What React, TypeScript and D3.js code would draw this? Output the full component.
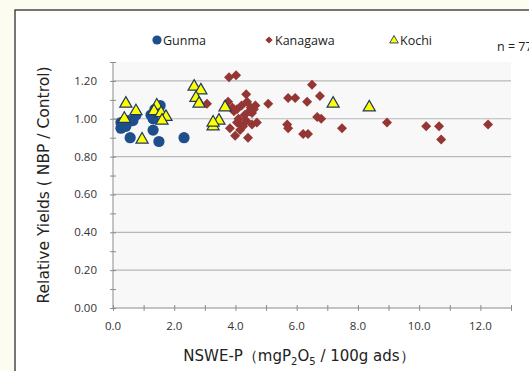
import React, { useEffect, useRef } from "react";
import * as d3 from "d3";

// Gunma (blue circles)
const gunmaX = [0.26, 0.26, 0.42, 0.5, 0.56, 0.65, 0.75, 1.24, 1.31, 1.37, 1.54, 1.31, 1.5, 2.32];
const gunmaY = [0.98, 0.95, 0.96, 0.99, 0.9, 0.99, 1.02, 1.02, 1.0, 1.05, 1.07, 0.94, 0.88, 0.9];

// Kanagawa (red diamonds)
const kanagawaX = [
  3.79, 4.02, 3.07, 3.76, 4.35, 4.38, 4.05, 4.2, 4.5, 4.65, 5.07, 5.72, 5.95, 6.34, 6.5,
  6.76, 4.54, 3.82, 3.99, 4.15, 4.15, 4.41, 4.54, 4.7, 5.69, 5.72, 6.21, 6.37, 6.67, 6.8,
  7.48, 8.95, 10.23, 10.65, 10.72, 12.25, 4.3, 4.1, 3.95, 4.45, 4.25, 4.6, 4.05, 4.35, 3.9,
];
const kanagawaY = [
  1.22, 1.23, 1.08, 1.09, 1.13, 1.09, 1.05, 1.07, 1.06, 1.07, 1.08, 1.11, 1.11, 1.09, 1.18,
  1.12, 1.03, 0.95, 0.91, 0.97, 0.94, 0.9, 0.97, 0.98, 0.97, 0.95, 0.92, 0.92, 1.01, 1.0,
  0.95, 0.98, 0.96, 0.96, 0.89, 0.97, 1.02, 1.0, 1.04, 1.04, 0.96, 1.05, 0.98, 0.99, 1.06,
];

// Kochi (yellow triangles)
const kochiX = [0.42, 0.37, 0.75, 0.95, 1.43, 1.34, 1.57, 1.73, 1.6, 2.65, 2.87, 2.71, 2.81, 3.27, 3.46, 3.27, 3.66, 7.19, 8.37];
const kochiY = [1.08, 1.0, 1.04, 0.89, 1.07, 1.04, 1.03, 1.01, 0.99, 1.17, 1.15, 1.11, 1.08, 0.96, 0.99, 0.98, 1.06, 1.08, 1.06];

const xTicks = [0, 2, 4, 6, 8, 10, 12];
const yTicks = [0, 0.2, 0.4, 0.6, 0.8, 1.0, 1.2];

const W = 529;
const H = 371;
const BLUE = "#1f4e8c";
const RED = "#943634";
const YELLOW = "#ffff00";
const TRI_STROKE = "#1f3864";

export default function App() {
  const ref = useRef<SVGSVGElement>(null);

  useEffect(() => {
    document.body.style.margin = "0";
    const svg = d3.select(ref.current);
    svg.selectAll("*").remove();

    const x = d3.scaleLinear().domain([0, 13]).range([113, 511]);
    const y = d3.scaleLinear().domain([0, 1.3]).range([308, 62]);

    // page background and frame
    svg.append("rect").attr("width", W).attr("height", H).attr("fill", "#fdfcf0");
    svg.append("rect").attr("x", 15).attr("y", 10).attr("width", W).attr("height", H)
      .attr("fill", "#ffffff").attr("stroke", "#2e2e2e").attr("stroke-width", 1.3);

    // plot area
    svg.append("rect").attr("x", x(0)).attr("y", y(1.3)).attr("width", x(13) - x(0))
      .attr("height", y(0) - y(1.3)).attr("fill", "#f8f8f8");

    // gridlines
    svg.append("g").selectAll("line").data(yTicks.filter((d) => d > 0)).join("line")
      .attr("x1", x(0)).attr("x2", x(13))
      .attr("y1", (d) => y(d)).attr("y2", (d) => y(d))
      .attr("stroke", "#b8b8b8").attr("stroke-width", 1.2);

    // axes
    const axisColor = "#8c8c8c";
    const font = "'Open Sans', 'Liberation Sans', sans-serif";
    const titleFont = "'DejaVu Sans', 'Liberation Sans', sans-serif";
    const xAxis = svg.append("g").attr("transform", `translate(0,${y(0)})`)
      .call(d3.axisBottom(x).tickValues(d3.range(0, 14, 1)).tickSize(4).tickFormat(() => ""));
    xAxis.selectAll("line").attr("stroke", axisColor);
    xAxis.select(".domain").attr("stroke", axisColor).attr("d", `M${x(0)},0H${x(13)}`);
    xAxis.selectAll(".tick line").attr("y1", -3).attr("y2", 3);

    svg.append("g").selectAll("text").data(xTicks).join("text")
      .attr("x", (d) => x(d)).attr("y", 330).attr("text-anchor", "middle")
      .attr("font-family", font).attr("font-size", 11.5).attr("fill", "#333")
      .text((d) => d.toFixed(1));

    const yAxis = svg.append("g").attr("transform", `translate(${x(0)},0)`)
      .call(d3.axisLeft(y).tickValues(d3.range(0, 1.31, 0.1)).tickSize(4).tickFormat(() => ""));
    yAxis.selectAll("line").attr("stroke", axisColor);
    yAxis.select(".domain").attr("stroke", axisColor).attr("d", `M0,${y(0)}V${y(1.3)}`);
    yAxis.selectAll(".tick line").attr("x1", -3).attr("x2", 3);

    svg.append("g").selectAll("text").data(yTicks).join("text")
      .attr("x", 97).attr("y", (d) => y(d) + 4).attr("text-anchor", "end")
      .attr("font-family", font).attr("font-size", 11.5).attr("fill", "#333")
      .text((d) => d.toFixed(2));

    // axis titles
    const xt = svg.append("text").attr("x", 299).attr("y", 361).attr("text-anchor", "middle")
      .attr("font-family", titleFont).attr("font-size", 15).attr("fill", "#222");
    xt.append("tspan").text("NSWE-P（mgP");
    xt.append("tspan").attr("font-size", 10).attr("dy", 4).text("2");
    xt.append("tspan").attr("dy", -4).text("O");
    xt.append("tspan").attr("font-size", 10).attr("dy", 4).text("5");
    xt.append("tspan").attr("dy", -4).text(" / 100g ads）");

    svg.append("text").attr("transform", `translate(49,${(y(0) + y(1.3)) / 2}) rotate(-90)`)
      .attr("text-anchor", "middle").attr("font-family", titleFont)
      .attr("font-size", 15.5).attr("fill", "#222").text("Relative Yields ( NBP / Control)");

    // points
    const plot = svg.append("g");
    const diamond = d3.symbol().type(d3.symbolSquare).size(50);
    const tri = d3.symbol().type(d3.symbolTriangle).size(64);

    plot.selectAll("circle.g").data(d3.range(gunmaX.length)).join("circle")
      .attr("cx", (i) => x(gunmaX[i])).attr("cy", (i) => y(gunmaY[i])).attr("r", 5.6)
      .attr("fill", BLUE);

    plot.selectAll("path.k").data(d3.range(kanagawaX.length)).join("path")
      .attr("transform", (i) => `translate(${x(kanagawaX[i])},${y(kanagawaY[i])}) rotate(45)`)
      .attr("d", diamond).attr("fill", RED);

    plot.selectAll("path.t").data(d3.range(kochiX.length)).join("path")
      .attr("transform", (i) => `translate(${x(kochiX[i])},${y(kochiY[i])})`)
      .attr("d", tri).attr("fill", YELLOW).attr("stroke", TRI_STROKE).attr("stroke-width", 1.2);

    // legend
    const lg = svg.append("g").attr("font-family", font).attr("font-size", 12.5).attr("fill", "#222");
    lg.append("circle").attr("cx", 157).attr("cy", 40).attr("r", 4.6).attr("fill", BLUE);
    lg.append("text").attr("x", 163).attr("y", 44.5).text("Gunma");
    lg.append("path").attr("transform", "translate(269,40) rotate(45)")
      .attr("d", d3.symbol().type(d3.symbolSquare).size(26)()).attr("fill", RED);
    lg.append("text").attr("x", 275).attr("y", 44.5).text("Kanagawa");
    lg.append("path").attr("transform", "translate(394,40.5)")
      .attr("d", d3.symbol().type(d3.symbolTriangle).size(32)()).attr("fill", YELLOW)
      .attr("stroke", TRI_STROKE).attr("stroke-width", 0.9);
    lg.append("text").attr("x", 400).attr("y", 44.5).text("Kochi");
    lg.append("text").attr("x", 497).attr("y", 51).text("n = 77");
  }, []);

  return <svg ref={ref} width={W} height={H} style={{ display: "block" }} />;
}
